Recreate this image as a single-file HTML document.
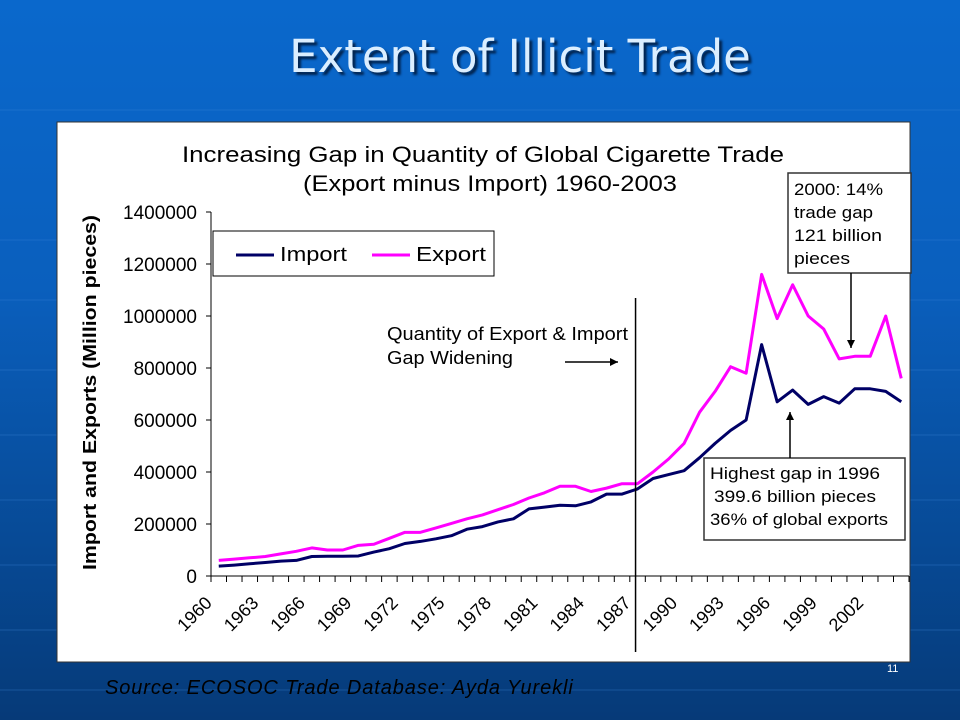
<!DOCTYPE html>
<html><head><meta charset="utf-8"><style>
html,body{margin:0;padding:0}
body{width:960px;height:720px;overflow:hidden;position:relative;font-family:"Liberation Sans",sans-serif;
background:linear-gradient(#0a68cc 0%,#0a5fbd 40%,#074a96 75%,#063a78 100%)}
.t{position:absolute}
</style></head><body>
<svg class="t" style="left:0;top:0" width="960" height="720">
<g stroke="#3b85d6" stroke-opacity="0.35" stroke-width="1">
<line x1="0" y1="110" x2="960" y2="110"/><line x1="0" y1="240" x2="960" y2="240"/><line x1="0" y1="300" x2="960" y2="300"/><line x1="0" y1="370" x2="960" y2="370"/><line x1="0" y1="435" x2="960" y2="435"/><line x1="0" y1="500" x2="960" y2="500"/><line x1="0" y1="565" x2="960" y2="565"/><line x1="0" y1="630" x2="960" y2="630"/><line x1="0" y1="690" x2="960" y2="690"/>
</g></svg>
<div class="t" style="left:0;width:1040px;top:30px;text-align:center;font-size:45px;color:#dbeeff;text-shadow:3px 3px 2px #02244f;font-family:'DejaVu Sans',sans-serif;">Extent of Illicit Trade</div>
<svg class="t" id="chart" style="left:0;top:0" width="960" height="720"></svg>
<div class="t" style="left:105px;top:677px;font-size:20px;letter-spacing:0.9px;font-style:italic;color:#000">Source: ECOSOC Trade Database: Ayda Yurekli</div>
<div class="t" style="left:887px;top:663px;font-size:11px;color:#fff">11</div>
<script>
const years=[];for(let y=1960;y<=2004;y++)years.push(y);
const importVals=[38,42,47,52,57,60,75,76,76,77,92,105,125,133,143,155,180,190,208,220,258,265,272,270,285,315,315,335,375,390,405,455,510,560,600,890,670,715,660,690,665,720,720,710,670].map(v=>v*1000);
const exportVals=[60,65,70,75,85,95,108,100,100,118,122,145,168,168,185,202,220,235,255,275,300,320,345,345,325,338,355,355,400,450,510,630,710,805,780,1160,990,1120,1000,950,835,845,845,1000,760].map(v=>v*1000);
const yTicks=[0,200000,400000,600000,800000,1000000,1200000,1400000];
const xLabels=[1960,1963,1966,1969,1972,1975,1978,1981,1984,1987,1990,1993,1996,1999,2002];
const NS="http://www.w3.org/2000/svg";
const svg=document.getElementById('chart');
const X0=211,X1=909,Y0=576,Ytop=212,YMAX=1400000;
const cw=(X1-X0)/years.length;
const xs=i=>X0+(i+0.5)*cw, xb=i=>X0+i*cw, ys=v=>Y0-(v/YMAX)*(Y0-Ytop);
function mk(tag,at,txt){const e=document.createElementNS(NS,tag);for(const k in at)e.setAttribute(k,at[k]);if(txt!=null)e.textContent=txt;svg.appendChild(e);return e;}
let e;
e=mk('rect',{x:57,y:122,width:853,height:540,fill:'#fff',stroke:'#333'});

e=mk('text',{x:182,y:162,'font-size':22,textLength:602,lengthAdjust:'spacingAndGlyphs',fill:'#000'},'Increasing Gap in Quantity of Global Cigarette Trade');

e=mk('text',{x:303,y:191,'font-size':22,textLength:374,lengthAdjust:'spacingAndGlyphs',fill:'#000','xml:space':'preserve'},'(Export minus Import)   1960-2003');

e=mk('text',{x:96,y:570,'font-size':18,'font-weight':'bold',textLength:355,lengthAdjust:'spacingAndGlyphs',transform:'rotate(-90 96 570)'},'Import and Exports (Million pieces)');

e=mk('line',{x1:X0,y1:Ytop,x2:X0,y2:Y0,stroke:'#000'});
e=mk('line',{x1:X0,y1:Y0,x2:X1,y2:Y0,stroke:'#000'});
yTicks.forEach(v=>{const y=ys(v);
e=mk('line',{x1:X0-5,y1:y,x2:X0,y2:y,stroke:'#000'});
e=mk('text',{x:X0-14,y:y+7,'font-size':19,'text-anchor':'end'},String(v));});
for(let i=0;i<=years.length;i++){e=mk('line',{x1:xb(i),y1:Y0,x2:xb(i),y2:Y0+6,stroke:'#000'});}
xLabels.forEach(yr=>{const i=years.indexOf(yr);const x=xb(i)+2,y=Y0+28;
e=mk('text',{x:x,y:y,'font-size':18,'text-anchor':'end',transform:`rotate(-45 ${x} ${y})`},String(yr));});
function line(vals,color,name){e=mk('polyline',{points:vals.map((v,i)=>xs(i)+','+ys(v)).join(' '),fill:'none',stroke:color,'stroke-width':3,'stroke-linejoin':'round'});
}
line(exportVals,'#ff00ff','export-line');
line(importVals,'#000066','import-line');
const vx=xs(years.indexOf(1987))-2;
e=mk('line',{x1:vx,y1:298,x2:vx,y2:652,stroke:'#000','stroke-width':1.5});
e=mk('rect',{x:213,y:231,width:281,height:45,fill:'#fff',stroke:'#000'});
e=mk('line',{x1:236,y1:255,x2:274,y2:255,stroke:'#000066','stroke-width':3});
e=mk('text',{x:280,y:261,'font-size':20,textLength:67,lengthAdjust:'spacingAndGlyphs'},'Import');
e=mk('line',{x1:372,y1:255,x2:410,y2:255,stroke:'#ff00ff','stroke-width':3});
e=mk('text',{x:416,y:261,'font-size':20,textLength:70,lengthAdjust:'spacingAndGlyphs'},'Export');
e=mk('text',{x:387,y:340,'font-size':18,textLength:241,lengthAdjust:'spacingAndGlyphs'},'Quantity of Export & Import');
e=mk('text',{x:387,y:364,'font-size':18,textLength:126,lengthAdjust:'spacingAndGlyphs'},'Gap Widening');
function arrow(x1,y1,x2,y2,name){e=mk('line',{x1,y1,x2,y2,stroke:'#000','stroke-width':1.5});
const a=Math.atan2(y2-y1,x2-x1),l=8,w=4;const p=[[x2,y2],[x2-l*Math.cos(a)+w*Math.sin(a),y2-l*Math.sin(a)-w*Math.cos(a)],[x2-l*Math.cos(a)-w*Math.sin(a),y2-l*Math.sin(a)+w*Math.cos(a)]];
e=mk('polygon',{points:p.map(q=>q.join(',')).join(' '),fill:'#000'});}
arrow(565,362,618,362,'gap-arrow');
e=mk('rect',{x:788,y:173,width:123,height:100,fill:'#fff',stroke:'#333','stroke-width':1.5});
[['2000: 14%',89],['trade gap',79],['121 billion',88],['pieces',56]].forEach((s,k)=>{e=mk('text',{x:794,y:195+k*23,'font-size':17,textLength:s[1],lengthAdjust:'spacingAndGlyphs'},s[0]);});
arrow(851,273,851,348,'trade-gap-arrow');
e=mk('rect',{x:704,y:458,width:201,height:82,fill:'#fff',stroke:'#333','stroke-width':1.5});
[['Highest gap in 1996',710,170],['399.6 billion pieces',714,162],['36% of global exports',710,178]].forEach((s,k)=>{e=mk('text',{x:s[1],y:479+k*23,'font-size':17,textLength:s[2],lengthAdjust:'spacingAndGlyphs'},s[0]);});
arrow(790,458,790,412,'highest-gap-arrow');
</script>
</body></html>
